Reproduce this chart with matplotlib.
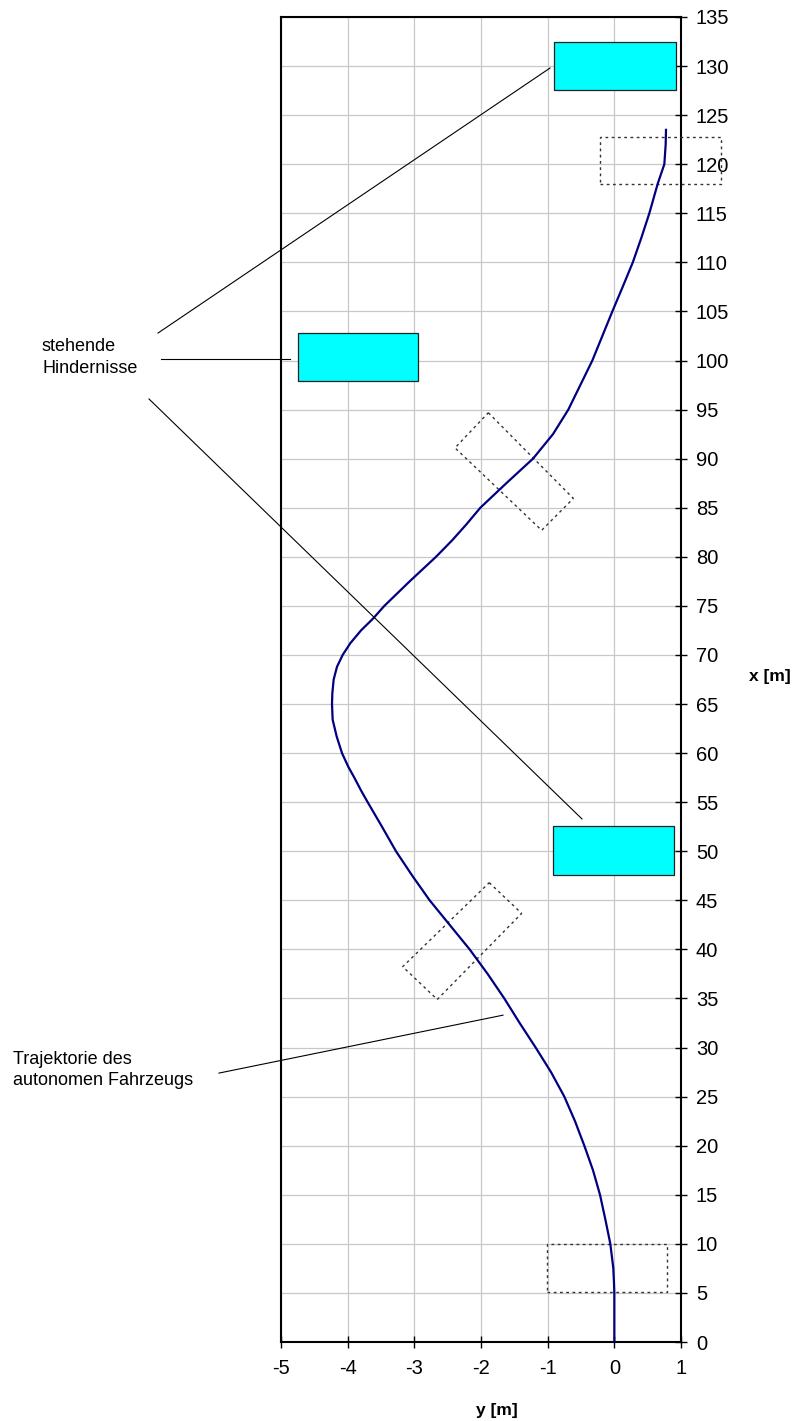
import matplotlib
matplotlib.use("Agg")
import matplotlib.pyplot as plt
from matplotlib.patches import Rectangle, Polygon

plt.rcParams['font.family'] = ['Liberation Sans', 'DejaVu Sans']
plt.rcParams['axes.unicode_minus'] = False

# Trajectory of the autonomous vehicle: x [m] (longitudinal), y [m] (lateral)
traj_x = [0, 5, 6, 7.5, 10, 12.5, 15, 17.5, 20, 22.5, 25, 27.5, 30, 32.5, 35, 37.5, 40,
          42.5, 45, 47.5, 50, 52.5, 55, 56.2, 57.5, 58.6, 60, 61.7, 63.4, 65, 66.1, 67.5,
          68.8, 70, 71.2, 72.5, 73.7, 75, 77.5, 80, 81.7, 83.3, 85, 87.5, 90, 92.5, 95,
          97.5, 100, 102.5, 105, 107.5, 110, 112.5, 115, 118, 120, 122, 123.5]
traj_y = [0, 0, -0.005, -0.015, -0.06, -0.135, -0.215, -0.32, -0.45, -0.59, -0.75, -0.95,
          -1.18, -1.42, -1.65, -1.9, -2.17, -2.47, -2.77, -3.03, -3.275, -3.485, -3.7,
          -3.8, -3.9, -3.99, -4.085, -4.165, -4.225, -4.235, -4.23, -4.21, -4.16, -4.075,
          -3.96, -3.80, -3.62, -3.45, -3.07, -2.675, -2.43, -2.22, -2.01, -1.62, -1.22,
          -0.92, -0.69, -0.51, -0.33, -0.18, -0.03, 0.125, 0.277, 0.405, 0.525, 0.65,
          0.75, 0.77, 0.775]

# Standing obstacles: (y_min, y_max, x_min, x_max)
obst_ymin = [-0.9, -4.75, -0.92]
obst_ymax = [0.92, -2.94, 0.895]
obst_xmin = [127.6, 97.9, 47.6]
obst_xmax = [132.5, 102.8, 52.6]

# Vehicle outlines (dotted), corners as (y, x)
veh_outlines = [
    [(-0.215, 117.95), (1.6, 117.95), (1.6, 122.8), (-0.215, 122.8)],
    [(-1.015, 5.06), (0.795, 5.06), (0.795, 9.95), (-1.015, 9.95)],
    [(-1.89, 94.68), (-0.615, 85.95), (-1.09, 82.7), (-2.39, 91.1)],
    [(-1.876, 46.8), (-1.39, 43.67), (-2.656, 34.9), (-3.175, 38.24)],
]

# Annotation leader lines (y, x endpoints)
lead_obst = [((-6.845, 102.8), (-0.965, 129.8)),
             ((-6.8, 100.15), (-4.865, 100.15)),
             ((-6.98, 96.08), (-0.485, 53.29))]
lead_traj = ((-5.93, 27.4), (-1.67, 33.3))

W, H = 798, 1421
fig = plt.figure(figsize=(W / 100, H / 100), dpi=100)
ax = fig.add_axes([281 / W, 1 - 1342 / H, 400 / W, 1325 / H])

ax.set_xlim(-5, 1)
ax.set_ylim(0, 135)
ax.set_xticks(range(-5, 2))
ax.set_yticks(range(0, 136, 5))
ax.grid(True, color='#c8c8c8', lw=0.9)
ax.set_axisbelow(True)

ax.yaxis.tick_right()
ax.tick_params(axis='both', direction='inout', length=8.6, width=1.0,
               labelsize=14.5, colors='black')
ax.tick_params(axis='y', pad=6.5)
ax.tick_params(axis='x', pad=8)
for s in ax.spines.values():
    s.set_linewidth(1.5)
    s.set_color('black')

for y0, y1, x0, x1 in zip(obst_ymin, obst_ymax, obst_xmin, obst_xmax):
    ax.add_patch(Rectangle((y0, x0), y1 - y0, x1 - x0, facecolor='#00ffff',
                           edgecolor='#202020', lw=0.9, zorder=3))

for corners in veh_outlines:
    ax.add_patch(Polygon(corners, closed=True, fill=False, edgecolor='#333333',
                         lw=1.0, linestyle=(0, (2, 2.5)), zorder=3, clip_on=False))

ax.plot(traj_y, traj_x, color='#000080', lw=1.6, zorder=4)

for (p0, p1) in lead_obst + [lead_traj]:
    ax.plot([p0[0], p1[0]], [p0[1], p1[1]], color='black', lw=0.8,
            clip_on=False, zorder=5)

def ft(px, py, s, **kw):
    fig.text(px / W, 1 - py / H, s, **kw)

ft(42, 351, 'stehende', fontsize=13, va='baseline', ha='left')
ft(42, 373, 'Hindernisse', fontsize=13, va='baseline', ha='left')
ft(13, 1064, 'Trajektorie des', fontsize=13, va='baseline', ha='left')
ft(13, 1085, 'autonomen Fahrzeugs', fontsize=13, va='baseline', ha='left')
ft(770, 677, 'x [m]', fontsize=12.5, fontweight='bold', va='center', ha='center')
ft(497, 1410, 'y [m]', fontsize=12.5, fontweight='bold', va='center', ha='center')

fig.savefig('out.png', dpi=100)
